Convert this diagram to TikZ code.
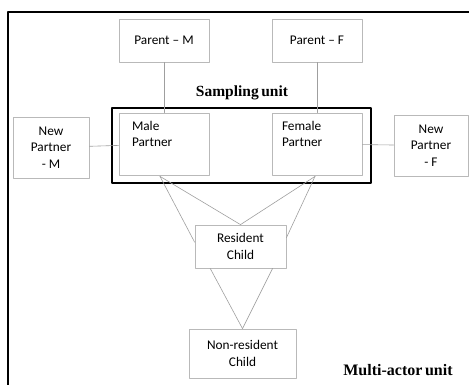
\documentclass[tikz,border=0pt]{standalone}
\usepackage{fontspec}
\setmainfont{Carlito}
\newfontfamily\unitfont{Liberation Serif}
\usetikzlibrary{calc}

\begin{document}
\begin{tikzpicture}[
  x=1pt, y=-1pt,
  line cap=round,
  line join=round,
  box/.style={draw=gray!55, line width=0.8pt, inner sep=0pt,
    font=\fontsize{13.3}{16.5}\selectfont, align=center},
  link/.style={draw=gray!75, line width=0.6pt},
  unitlabel/.style={font=\unitfont\bfseries\fontsize{15.5}{18}\selectfont, inner sep=0pt}
]

\useasboundingbox (0,0) rectangle (469,385);
\clip (0,0) rectangle (469,385);

% outer frame, runs off the right and bottom edges
\draw [line width=2.4pt] (8,420) -- (8,12) -- (500,12);

\node [box, minimum width=90, minimum height=43] (parentM) at (164,40.5) {Parent -- M};
\node [box, minimum width=90, minimum height=43] (parentF) at (317,40.5) {Parent -- F};

\node [box, minimum width=90, minimum height=62] (male) at (164,144) {};
\node [box, minimum width=90, minimum height=62] (female) at (317,144) {};
\node [box, draw=none, anchor=north west, align=left] (maleText) at ($(male.north west)+(13,8)$) {Male\\Partner};
\node [box, draw=none, anchor=north west, align=left] (femaleText) at ($(female.north west)+(10,8)$) {Female\\Partner};

\node [box, minimum width=76, minimum height=61] (newM) at (51,147.5) {New\\Partner\\- M};
\node [box, minimum width=74, minimum height=61] (newF) at (431,145.5) {New\\Partner\\- F};

\node [box, minimum width=91, minimum height=43] (res) at (240.5,246.5) {Resident\\Child};
\node [box, minimum width=107, minimum height=49] (nonres) at (242.5,353.5) {Non-resident\\Child};

% sampling unit
\node [draw, line width=1.8pt, inner sep=0pt, minimum width=259, minimum height=75] (sampling) at (241.5,145.5) {};
\node [unitlabel] (samplingText) at (242,93) {Sampling\,unit};
\node [unitlabel, font=\unitfont\bfseries\fontsize{16}{18}\selectfont] (multiText) at (398,370) {Multi-actor\,unit};

\draw [link] (parentM) -- (male);
\draw [link] (parentF) -- (female);
\draw [link] (newM) -- (male);
\draw [link] (female) -- (newF);

\coordinate (maleFoot) at ($(male.south)+(-4,1)$);
\coordinate (femaleFoot) at ($(female.south)+(-2,1)$);
\draw [link] (maleFoot) -- ($(res.north west)!0.4!(res.south west)$);
\draw [link] (maleFoot) -- (res.north);
\draw [link] (femaleFoot) -- (res.north);
\draw [link] (femaleFoot) -- ($(res.north east)!0.3!(res.south east)$);
\draw [link] ($(res.south west)!0.17!(res.south east)$) -- (nonres.north);
\draw [link] ($(res.south west)!0.85!(res.south east)$) -- (nonres.north);

\end{tikzpicture}
\end{document}
